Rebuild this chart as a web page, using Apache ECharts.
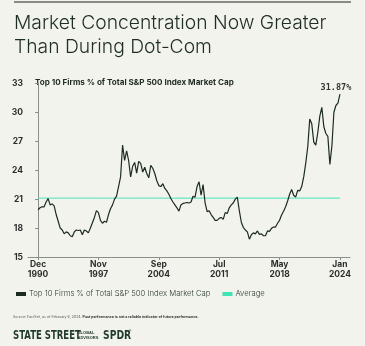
<!DOCTYPE html>
<html>
<head>
<meta charset="utf-8">
<script src="https://cdn.jsdelivr.net/npm/echarts@6/dist/echarts.min.js"></script>
<style>
  html, body { margin: 0; padding: 0; background: #f3f3ee; }
  #chart { width: 365px; height: 346px; }
</style>
</head>
<body>
<div id="chart"></div>
<script>
// Axis tick labels and the sample positions they sit on
const tickLabels = ['Dec\n1990', 'Nov\n1997', 'Sep\n2004', 'Jul\n2011', 'May\n2018', 'Jan\n2024'];
const tickPositions = [0, 30, 60, 90, 120, 150];

// Top 10 firms' share of total S&P 500 index market cap (%), Dec 1990 - Jan 2024
const top10Share = [
  19.9, 20.1, 20.2, 20.2, 20.7, 21.05, 20.4, 20.5, 20.3, 19.4,
  18.7, 18.0, 17.8, 17.4, 17.6, 17.5, 17.2, 17.1, 17.6, 17.8,
  17.75, 17.8, 17.3, 17.8, 17.7, 17.5, 18.0, 18.55, 19.1, 19.8,
  19.6, 18.8, 18.5, 18.7, 18.6, 19.4, 20.0, 20.4, 21.0, 21.3,
  22.3, 23.3, 26.6, 25.0, 26.0, 25.0, 23.3, 24.4, 24.8, 23.7,
  24.9, 24.7, 23.8, 24.3, 23.65, 23.2, 24.5, 24.2, 23.65, 22.9,
  22.4, 22.3, 22.6, 22.1, 21.85, 21.5, 21.07, 20.7, 20.4, 20.1,
  19.75, 20.4, 20.55, 20.6, 20.65, 20.6, 20.7, 21.3, 21.2, 22.3,
  22.8, 21.4, 22.5, 20.6, 19.7, 19.8, 19.4, 19.1, 18.8, 18.8,
  19.0, 19.1, 18.9, 19.6, 19.5, 20.1, 20.4, 20.6, 21.0, 21.2,
  19.8, 18.6, 18.05, 17.8, 17.6, 16.85, 17.3, 17.5, 17.4, 17.7,
  17.35, 17.4, 17.2, 17.2, 17.7, 17.65, 17.97, 18.1, 18.1, 18.5,
  18.8, 19.35, 19.75, 20.2, 20.8, 21.5, 22.0, 21.4, 21.2, 21.9,
  21.85, 22.3, 23.3, 24.7, 26.4, 29.3, 28.8, 26.9, 26.6, 27.9,
  29.6, 30.5, 28.5, 27.8, 27.5, 24.6, 26.5, 30.0, 30.7, 30.95,
  31.87
];
const averageShare = 21.1;

const seriesName = 'Top 10 Firms % of Total S&P 500 Index Market Cap';
const darkGreen = '#1c2b22';
const mint = '#3fe3b4';
const labelFont = 'Inter, "Noto Sans", sans-serif';

const lastIdx = top10Share.length - 1;
const lineData = top10Share.map((v, i) => [i, v]);
const avgData = top10Share.map((_, i) => [i, averageShare]);

const chart = echarts.init(document.getElementById('chart'), null, { renderer: 'canvas' });
chart.setOption({
  backgroundColor: '#f3f3ee',
  animation: false,
  grid: { left: 28, top: 83.3, width: 322, height: 173.7, containLabel: false },
  xAxis: {
    type: 'value', min: -5, max: 155,
    axisLine: { show: true, lineStyle: { color: '#8a8f8a', width: 1 } },
    axisTick: { show: true, length: 3, customValues: tickPositions, lineStyle: { color: '#8a8f8a' } },
    splitLine: { show: false },
    axisLabel: {
      customValues: tickPositions,
      formatter: v => tickLabels[tickPositions.indexOf(v)] || '',
      fontFamily: labelFont, fontWeight: 'bold', fontSize: 8.5, color: '#2b2f2c',
      lineHeight: 9.5, margin: 3
    }
  },
  yAxis: {
    type: 'value', min: 15, max: 33, interval: 3,
    axisLine: { show: true, lineStyle: { color: '#8a8f8a', width: 1 } },
    axisTick: { show: true, length: 3, lineStyle: { color: '#8a8f8a' } },
    splitLine: { show: false },
    axisLabel: {
      fontFamily: labelFont, fontWeight: 'bold', fontSize: 8.5, color: '#2b2f2c', margin: 5
    }
  },
  legend: {
    left: 11, top: 285, itemWidth: 10, itemHeight: 4, itemGap: 12,
    icon: 'rect',
    textStyle: { fontFamily: labelFont, fontWeight: 300, fontSize: 7.7, color: '#2a3a30', padding: [0, 0, 0, -2] },
    data: [seriesName, 'Average']
  },
  series: [
    {
      name: 'Average', type: 'line', data: avgData, symbol: 'none',
      lineStyle: { color: mint, width: 1 }, itemStyle: { color: mint }, z: 2
    },
    {
      name: seriesName, type: 'line', data: lineData, symbol: 'none',
      lineStyle: { color: darkGreen, width: 1.2 }, itemStyle: { color: darkGreen }, z: 3,
      markPoint: {
        symbol: 'circle', symbolSize: 0, silent: true,
        data: [{ coord: lineData[lastIdx], value: top10Share[lastIdx] }],
        label: {
          show: true, position: 'top', distance: 2, offset: [-4, 0],
          formatter: p => p.value.toFixed(2) + '%',
          fontFamily: '"DejaVu Sans Mono", monospace', fontWeight: 'bold',
          fontSize: 8.5, color: '#333'
        }
      }
    }
  ],
  graphic: [
    { type: 'rect', shape: { x: 14, y: 1.5, width: 337, height: 1 }, style: { fill: '#222' } },
    {
      type: 'text', left: 14, top: 11.5,
      style: {
        text: 'Market Concentration Now Greater\nThan During Dot-Com',
        font: '300 19.3px Inter, "Noto Sans", sans-serif', lineHeight: 24, fill: '#1e2e24'
      }
    },
    {
      type: 'text', left: 35, top: 79,
      style: {
        text: 'Top 10 Firms % of Total S&P 500 Index Market Cap',
        font: 'bold 8.1px Inter, "Noto Sans", sans-serif', fill: '#1e2a22'
      }
    },
    {
      type: 'text', left: 13, top: 314.5,
      style: {
        rich: {
          a: { fontFamily: labelFont, fontSize: 3.6, fill: '#555' },
          b: { fontFamily: labelFont, fontSize: 3.6, fontWeight: 'bold', fill: '#333' }
        },
        text: '{a|Source: FactSet, as of February 6, 2024. }{b|Past performance is not a reliable indicator of future performance.}'
      }
    },
    {
      type: 'text', left: 13, top: 329.5, scaleX: 0.76,
      style: { text: 'STATE STREET', font: 'bold 12.5px "Liberation Sans Narrow", "DejaVu Sans Condensed", sans-serif', fill: '#1f3a2a' }
    },
    {
      type: 'text', left: 77.5, top: 330.5,
      style: { text: 'GLOBAL\nADVISORS', font: 'bold 4px "Liberation Sans Narrow", sans-serif', lineHeight: 4.6, fill: '#1f3a2a' }
    },
    {
      type: 'text', left: 103, top: 329.5, scaleX: 0.82,
      style: { text: 'SPDR', font: 'bold 12.5px "Liberation Sans Narrow", "DejaVu Sans Condensed", sans-serif', fill: '#1f3a2a' }
    },
    {
      type: 'text', left: 128.5, top: 329,
      style: { text: '®', font: '4px sans-serif', fill: '#1f3a2a' }
    }
  ]
});
</script>
</body>
</html>
